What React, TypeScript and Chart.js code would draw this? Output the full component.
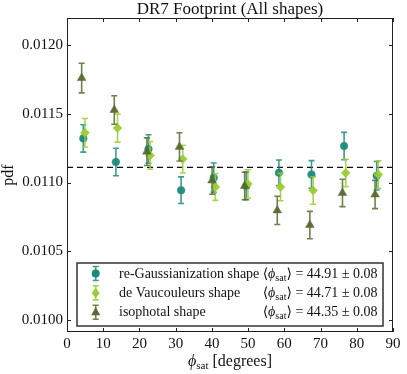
import { useEffect, useRef } from 'react';
import { Chart, registerables } from 'chart.js';

Chart.register(...registerables);

// ---------- data ----------
const phiBinCenters = [4.5, 13.5, 22.5, 31.5, 40.5, 49.5, 58.5, 67.5, 76.5, 85.5];

const reGaussPdf = [0.011322, 0.01115, 0.011245, 0.010944, 0.011035, 0.010975, 0.011071, 0.011059, 0.011266, 0.01105];
const reGaussErr = [0.0001, 0.0001, 0.000104, 0.000097, 0.000107, 0.000101, 0.000093, 0.000101, 0.0001, 0.000104];

const deVaucPdf = [0.011363, 0.011397, 0.011198, 0.011171, 0.010968, 0.01099, 0.010967, 0.010942, 0.01107, 0.011058];
const deVaucErr = [0.000104, 0.000102, 0.000101, 0.000101, 0.000098, 0.000103, 0.0001, 0.0001, 0.0001, 0.000101];

const isophotalPdf = [0.011762, 0.011529, 0.011225, 0.01126, 0.011015, 0.010975, 0.010797, 0.01069, 0.010924, 0.010913];
const isophotalErr = [0.000108, 0.000104, 0.000101, 0.000103, 0.0001, 0.0001, 0.000103, 0.0001, 0.0001, 0.000103];

const seriesLabels = ['re-Gaussianization shape', 'de Vaucouleurs shape', 'isophotal shape'];
const meanPhi = ['44.91', '44.71', '44.35'];
const meanPhiErr = ['0.08', '0.08', '0.08'];

const uniformPdf = 0.011111;
const xTicks = [0, 10, 20, 30, 40, 50, 60, 70, 80, 90];
const yTicks = [0.01, 0.0105, 0.011, 0.0115, 0.012];

const titleText = 'DR7 Footprint (All shapes)';
const yTitle = 'pdf';

// ---------- style ----------
const FONT = "'Liberation Serif', 'DejaVu Serif', serif";
const colTeal = '#1b8a7b';
const colLight = '#9acd32';
const colOlive = '#556b2f';
const xDodge = [0, 0.45, -0.45];

function rgba(hex: string, a: number) {
  const n = parseInt(hex.slice(1), 16);
  return `rgba(${(n >> 16) & 255},${(n >> 8) & 255},${n & 255},${a})`;
}

function drawMarker(ctx: CanvasRenderingContext2D, style: string, x: number, y: number, color: string) {
  ctx.save();
  ctx.fillStyle = color;
  ctx.beginPath();
  if (style === 'circle') {
    ctx.arc(x, y, 4, 0, Math.PI * 2);
  } else if (style === 'rectRot') {
    const r = 5;
    ctx.moveTo(x, y - r);
    ctx.lineTo(x + r * 0.8, y);
    ctx.lineTo(x, y + r);
    ctx.lineTo(x - r * 0.8, y);
    ctx.closePath();
  } else {
    const r = 5;
    ctx.moveTo(x, y - r);
    ctx.lineTo(x + r * 0.9, y + r * 0.6);
    ctx.lineTo(x - r * 0.9, y + r * 0.6);
    ctx.closePath();
  }
  ctx.fill();
  ctx.restore();
}

function drawErrBar(ctx: CanvasRenderingContext2D, x: number, y1: number, y2: number, color: string) {
  ctx.save();
  ctx.strokeStyle = color;
  ctx.lineWidth = 1.6;
  ctx.beginPath();
  ctx.moveTo(x, y1);
  ctx.lineTo(x, y2);
  ctx.moveTo(x - 3, y1);
  ctx.lineTo(x + 3, y1);
  ctx.moveTo(x - 3, y2);
  ctx.lineTo(x + 3, y2);
  ctx.stroke();
  ctx.restore();
}

type Part = { text: string; font: string; dy?: number };
function drawRich(ctx: CanvasRenderingContext2D, parts: Part[], x: number, y: number, align: 'left' | 'center' | 'right') {
  ctx.save();
  ctx.textAlign = 'left';
  ctx.textBaseline = 'alphabetic';
  let total = 0;
  const ws: number[] = [];
  for (const p of parts) {
    ctx.font = p.font;
    const w = ctx.measureText(p.text).width;
    ws.push(w);
    total += w;
  }
  let cx = align === 'center' ? x - total / 2 : align === 'right' ? x - total : x;
  parts.forEach((p, i) => {
    ctx.font = p.font;
    ctx.fillText(p.text, cx, y + (p.dy || 0));
    cx += ws[i];
  });
  ctx.restore();
}

const customPlugin = {
  id: 'custom',
  beforeDatasetsDraw(chart: any) {
    const { ctx, chartArea, scales } = chart;
    const y = scales.y.getPixelForValue(uniformPdf);
    ctx.save();
    ctx.strokeStyle = '#111';
    ctx.lineWidth = 1.2;
    ctx.setLineDash([6, 4]);
    ctx.beginPath();
    ctx.moveTo(chartArea.left, y);
    ctx.lineTo(chartArea.right, y);
    ctx.stroke();
    ctx.restore();
  },
  beforeDatasetDraw(chart: any, args: any) {
    const { ctx, scales } = chart;
    const ds = chart.data.datasets[args.index];
    const meta = args.meta;
    ds.data.forEach((pt: any, i: number) => {
      const e = ds.errors[i];
      const x = meta.data[i].x;
      const y1 = scales.y.getPixelForValue(pt.y + e);
      const y2 = scales.y.getPixelForValue(pt.y - e);
      drawErrBar(ctx, x, y1, y2, rgba(ds.baseColor, 0.85));
    });
  },
  afterDraw(chart: any) {
    const { ctx, chartArea, scales } = chart;
    const { left, right, top, bottom } = chartArea;
    ctx.save();
    // frame
    ctx.strokeStyle = '#222';
    ctx.lineWidth = 1;
    ctx.strokeRect(left + 0.5, top + 0.5, right - left - 1, bottom - top - 1);
    // inward ticks
    ctx.beginPath();
    for (const v of xTicks) {
      const px = Math.round(scales.x.getPixelForValue(v)) + 0.5;
      ctx.moveTo(px, bottom);
      ctx.lineTo(px, bottom - 4);
      ctx.moveTo(px, top);
      ctx.lineTo(px, top + 4);
    }
    for (const v of yTicks) {
      const py = Math.round(scales.y.getPixelForValue(v)) + 0.5;
      ctx.moveTo(left, py);
      ctx.lineTo(left + 4, py);
      ctx.moveTo(right, py);
      ctx.lineTo(right - 4, py);
    }
    ctx.stroke();

    // title
    ctx.fillStyle = '#111';
    drawRich(ctx, [{ text: titleText, font: `17px ${FONT}` }], (left + right) / 2, 14, 'center');

    // x title
    drawRich(
      ctx,
      [
        { text: '\u03D5', font: `italic 16px ${FONT}` },
        { text: 'sat', font: `11px ${FONT}`, dy: 3 },
        { text: ' [degrees]', font: `16px ${FONT}` },
      ],
      (left + right) / 2,
      366,
      'center'
    );

    // y title
    ctx.save();
    ctx.translate(13, (top + bottom) / 2);
    ctx.rotate(-Math.PI / 2);
    ctx.font = `16px ${FONT}`;
    ctx.textAlign = 'center';
    ctx.textBaseline = 'alphabetic';
    ctx.fillText(yTitle, 0, 0);
    ctx.restore();

    // legend
    const bx = 77, by = 263, bw = 306, bh = 63;
    ctx.fillStyle = 'rgba(255,255,255,0.95)';
    ctx.fillRect(bx, by, bw, bh);
    ctx.strokeStyle = '#333';
    ctx.lineWidth = 1.5;
    ctx.strokeRect(bx, by, bw, bh);
    const styles = ['circle', 'rectRot', 'triangle'];
    const cols = [colTeal, colLight, colOlive];
    for (let i = 0; i < 3; i++) {
      const ry = by + 10.5 + i * 19.4;
      drawErrBar(ctx, 95.7, ry - 7, ry + 7, rgba(cols[i], 0.85));
      drawMarker(ctx, styles[i], 95.7, ry, cols[i]);
      ctx.fillStyle = '#111';
      drawRich(ctx, [{ text: seriesLabels[i], font: `14px ${FONT}` }], 119, ry + 4, 'left');
      drawRich(
        ctx,
        [
          { text: '\u27E8', font: `14px ${FONT}` },
          { text: '\u03D5', font: `italic 14px ${FONT}` },
          { text: 'sat', font: `10px ${FONT}`, dy: 3 },
          { text: `\u27E9 = ${meanPhi[i]} \u00B1 ${meanPhiErr[i]}`, font: `14px ${FONT}` },
        ],
        377.5,
        ry + 4,
        'right'
      );
    }
    ctx.restore();
  },
};

export default function App() {
  const ref = useRef<HTMLCanvasElement | null>(null);
  useEffect(() => {
    if (!ref.current) return;
    const mk = (pdf: number[], err: number[], k: number, color: string, style: string, radius: number, label: string, order: number) => ({
      label,
      data: phiBinCenters.map((x, i) => ({ x: x + xDodge[k], y: pdf[i] })),
      errors: err,
      baseColor: color,
      backgroundColor: rgba(color, 0.95),
      borderColor: rgba(color, 0.95),
      borderWidth: 0.5,
      pointStyle: style,
      pointRadius: radius,
      showLine: false,
      order,
    });
    const chart = new Chart(ref.current, {
      type: 'scatter',
      data: {
        datasets: [
          mk(isophotalPdf, isophotalErr, 2, colOlive, 'triangle', 5, seriesLabels[2], 0),
          mk(deVaucPdf, deVaucErr, 1, colLight, 'rectRot', 4.5, seriesLabels[1], 1),
          mk(reGaussPdf, reGaussErr, 0, colTeal, 'circle', 3.8, seriesLabels[0], 2),
        ] as any,
      },
      options: {
        animation: false,
        responsive: false,
        devicePixelRatio: 1,
        layout: { padding: { top: 18, right: 14, left: 0, bottom: 0 } },
        plugins: { legend: { display: false }, tooltip: { enabled: false }, title: { display: false } },
        scales: {
          x: {
            type: 'linear',
            min: 0,
            max: 90,
            grid: { display: false, drawTicks: false },
            border: { display: false },
            afterBuildTicks: (s: any) => {
              s.ticks = xTicks.map((v) => ({ value: v }));
            },
            afterFit: (s: any) => {
              s.height = 42;
            },
            ticks: {
              padding: 3,
              color: '#111',
              font: { family: FONT, size: 15 },
              maxRotation: 0,
              callback: (v: any) => String(v),
            },
          },
          y: {
            type: 'linear',
            min: 0.00991,
            max: 0.0122,
            grid: { display: false, drawTicks: false },
            border: { display: false },
            afterBuildTicks: (s: any) => {
              s.ticks = yTicks.map((v) => ({ value: v }));
            },
            afterFit: (s: any) => {
              s.width = 67;
            },
            ticks: {
              padding: 4,
              color: '#111',
              font: { family: FONT, size: 15 },
              callback: (v: any) => Number(v).toFixed(4),
            },
          },
        },
      } as any,
      plugins: [customPlugin],
    });
    return () => chart.destroy();
  }, []);
  return (
    <div style={{ position: 'fixed', left: 0, top: 0, width: 407, height: 374, background: '#fff' }}>
      <canvas ref={ref} width={407} height={374} style={{ width: 407, height: 374 }} />
    </div>
  );
}
